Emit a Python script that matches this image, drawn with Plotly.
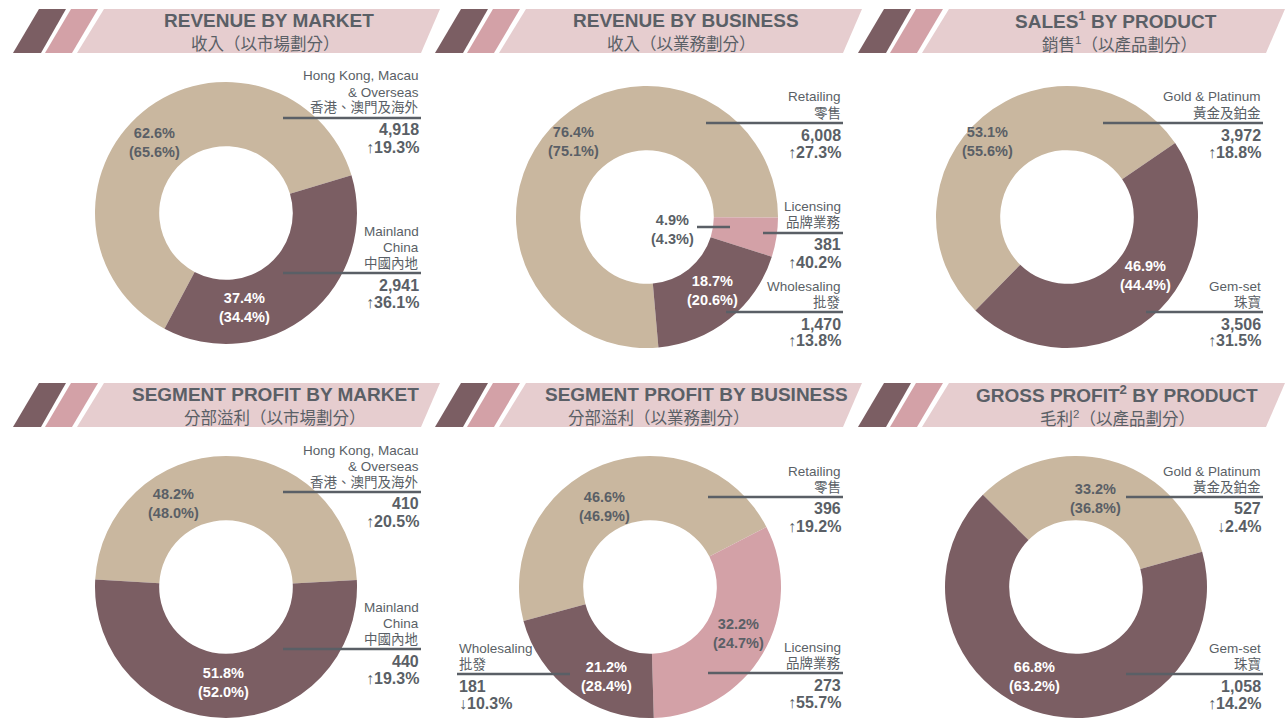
import plotly.graph_objects as go

W, H = 1287, 718

TAN = "#c9b79f"
MAUVE = "#7b5e63"
PINK = "#d3a1a7"
BANNER = "#e6cdcf"
GREY = "#5a5f66"
FONT = "Liberation Sans, Arial, Noto Sans CJK TC, sans-serif"

# ---------------------------------------------------------------------------
# Data
# ---------------------------------------------------------------------------
titles_en = [
    "REVENUE BY MARKET", "REVENUE BY BUSINESS", "SALES<sup>1</sup> BY PRODUCT",
    "SEGMENT PROFIT BY MARKET", "SEGMENT PROFIT BY BUSINESS", "GROSS PROFIT<sup>2</sup> BY PRODUCT",
]
titles_zh = [
    "收入（以市場劃分）", "收入（以業務劃分）", "銷售<sup>1</sup>（以產品劃分）",
    "分部溢利（以市場劃分）", "分部溢利（以業務劃分）", "毛利<sup>2</sup>（以產品劃分）",
]

market_labels = [["Hong Kong, Macau", "& Overseas", "香港、澳門及海外"], ["Mainland", "China", "中國內地"]]
business_labels = [["Retailing", "零售"], ["Licensing", "品牌業務"], ["Wholesaling", "批發"]]
product_labels = [["Gold & Platinum", "黃金及鉑金"], ["Gem-set", "珠寶"]]

revenue_market = [4918, 2941]
revenue_market_share = [62.6, 37.4]
revenue_market_prev = [65.6, 34.4]
revenue_market_growth = [19.3, 36.1]

revenue_business = [6008, 381, 1470]
revenue_business_share = [76.4, 4.9, 18.7]
revenue_business_prev = [75.1, 4.3, 20.6]
revenue_business_growth = [27.3, 40.2, 13.8]

sales_product = [3972, 3506]
sales_product_share = [53.1, 46.9]
sales_product_prev = [55.6, 44.4]
sales_product_growth = [18.8, 31.5]

profit_market = [410, 440]
profit_market_share = [48.2, 51.8]
profit_market_prev = [48.0, 52.0]
profit_market_growth = [20.5, 19.3]

profit_business = [396, 273, 181]
profit_business_share = [46.6, 32.2, 21.2]
profit_business_prev = [46.9, 24.7, 28.4]
profit_business_growth = [19.2, 55.7, -10.3]

gross_product = [527, 1058]
gross_product_share = [33.2, 66.8]
gross_product_prev = [36.8, 63.2]
gross_product_growth = [-2.4, 14.2]


# ---------------------------------------------------------------------------
# Panel layout (pixel positions)
# ---------------------------------------------------------------------------
panels = [
    dict(values=revenue_market, share=revenue_market_share, prev=revenue_market_prev,
         growth=revenue_market_growth, labels=market_labels, colors=[TAN, MAUVE],
         cx=226, cy=213, r=131, rot=-152,
         pct=[(154, 142, GREY), (244, 307, "white")],
         callouts=[(118, 283, 421, "right"), (273, 283, 421, "right")],
         tx=(269, 265), col=0, row=0),
    dict(values=revenue_business, share=revenue_business_share, prev=revenue_business_prev,
         growth=revenue_business_growth, labels=business_labels, colors=[TAN, PINK, MAUVE],
         cx=647, cy=217, r=131, rot=175,
         pct=[(573, 141, GREY), (672, 229, GREY), (712, 290, "white")],
         callouts=[(123, 706, 843, "right"), (233, 763, 843, "right"), (312, 726, 843, "right")],
         extra=[(697, 730, 227)],
         tx=(686, 681), col=1, row=0),
    dict(values=sales_product, share=sales_product_share, prev=sales_product_prev,
         growth=sales_product_growth, labels=product_labels, colors=[TAN, MAUVE],
         cx=1067, cy=217, r=131, rot=-135.6,
         pct=[(988, 141, GREY), (1145, 275, "white")],
         callouts=[(123, 1103, 1263, "right"), (312, 1146, 1263, "right")],
         tx=(1116, 1119), col=2, row=0),
    dict(values=profit_market, share=profit_market_share, prev=profit_market_prev,
         growth=profit_market_growth, labels=market_labels, colors=[TAN, MAUVE],
         cx=226, cy=587, r=131, rot=-86.7,
         pct=[(173, 504, GREY), (223, 682, "white")],
         callouts=[(492, 283, 421, "right"), (649, 283, 421, "right")],
         tx=(275, 275), col=0, row=1),
    dict(values=profit_business, share=profit_business_share, prev=profit_business_prev,
         growth=profit_business_growth, labels=business_labels, colors=[TAN, PINK, MAUVE],
         cx=650, cy=587, r=131, rot=-105,
         pct=[(604, 506, GREY), (738, 633, GREY), (606, 676, "white")],
         callouts=[(497, 708, 843, "right"), (673, 708, 843, "right"), (674, 457, 570, "left")],
         tx=(696, 659), col=1, row=1),
    dict(values=gross_product, share=gross_product_share, prev=gross_product_prev,
         growth=gross_product_growth, labels=product_labels, colors=[TAN, MAUVE],
         cx=1076, cy=587, r=131, rot=-45.3,
         pct=[(1095, 498, GREY), (1034, 676, "white")],
         callouts=[(497, 1126, 1263, "right"), (674, 1126, 1263, "right")],
         tx=(1117, 1117), col=2, row=1),
]

COL_OFF = [0, 422, 845]
ROW_OFF = [0, 374]


def px(x):
    return x / W


def py(y):
    return 1 - y / H


def poly(pts):
    return "M " + " L ".join(f"{px(x):.5f},{py(y):.5f}" for x, y in pts) + " Z"


fig = go.Figure()
shapes = []
annotations = []


def text(x, y, s, size, color=GREY, bold=False, xanchor="center"):
    annotations.append(dict(
        x=px(x), y=py(y), xref="paper", yref="paper", showarrow=False,
        text=f"<b>{s}</b>" if bold else s, xanchor=xanchor, yanchor="middle",
        align=xanchor if xanchor != "center" else "center",
        font=dict(family=FONT, size=size, color=color),
    ))


def hline(x0, x1, y):
    shapes.append(dict(type="line", xref="paper", yref="paper",
                       x0=px(x0), x1=px(x1), y0=py(y), y1=py(y),
                       line=dict(color=GREY, width=2.5)))


for i, p in enumerate(panels):
    ox, oy = COL_OFF[p["col"]], ROW_OFF[p["row"]]

    # header banner
    for pts, colr in [
        ([(13, 53), (39, 9), (66, 9), (41, 53)], MAUVE),
        ([(45, 53), (71, 9), (98, 9), (72, 53)], PINK),
        ([(77, 53), (104, 9), (440, 9), (421, 53)], BANNER),
    ]:
        shapes.append(dict(type="path", xref="paper", yref="paper", layer="below",
                           path=poly([(x + ox, y + oy) for x, y in pts]),
                           fillcolor=colr, line=dict(width=0)))
    text(p["tx"][0], oy + 20, titles_en[i], 19, bold=True)
    text(p["tx"][1], oy + 44, titles_zh[i], 16.5)

    # donut
    cx, cy, r = p["cx"], p["cy"], p["r"]
    fig.add_trace(go.Pie(
        values=p["values"], sort=False, direction="clockwise", rotation=p["rot"],
        hole=0.51, textinfo="none", showlegend=False,
        marker=dict(colors=p["colors"], line=dict(width=0)),
        domain=dict(x=[px(cx - r), px(cx + r)], y=[py(cy + r), py(cy - r)]),
    ))

    # percentages inside the ring
    for (x, y, colr), s, pv in zip(p["pct"], p["share"], p["prev"]):
        text(x, y, f"{s:.1f}%<br>({pv:.1f}%)", 14.5, color=colr, bold=True)

    # call-outs
    for (ly, x0, x1, side), lab, v, g in zip(p["callouts"], p["labels"], p["values"], p["growth"]):
        hline(x0, x1, ly)
        ax = x1 if side == "right" else x0
        offs = [-42, -26, -10][-len(lab):]
        for line, o in zip(lab, offs):
            text(ax, ly + o, line, 13.5, xanchor=side)
        text(ax, ly + 12, f"{v:,}", 16, bold=True, xanchor=side)
        arrow = "↑" if g >= 0 else "↓"
        text(ax, ly + 29, f"{arrow}{abs(g):.1f}%", 16, bold=True, xanchor=side)

    for x0, x1, y in p.get("extra", []):
        hline(x0, x1, y)

fig.update_layout(
    width=W, height=H,
    margin=dict(l=0, r=0, t=0, b=0),
    paper_bgcolor="white", plot_bgcolor="white",
    shapes=shapes, annotations=annotations,
    font=dict(family=FONT, color=GREY),
)

fig.write_html("out.html", config={"displayModeBar": False},
               post_script="document.body.style.margin = '0';")
